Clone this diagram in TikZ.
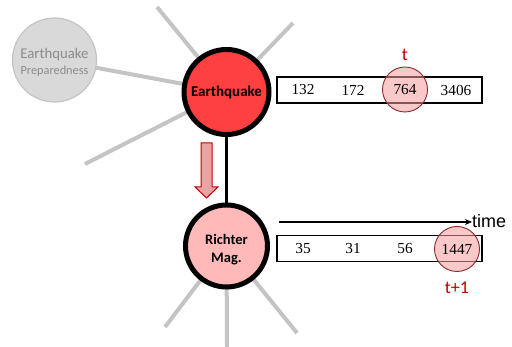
\documentclass[tikz,border=0pt]{standalone}
\usepackage{fontspec}
\usetikzlibrary{arrows.meta}
\setmainfont{Liberation Serif}
\newfontfamily\carlito{Carlito}
\newfontfamily\arialf{Liberation Sans}
\definecolor{eqred}{HTML}{FF4040}
\definecolor{rmpink}{HTML}{FFB9B9}
\definecolor{graylink}{HTML}{C4C4C4}
\definecolor{grayfill}{HTML}{D9D9D9}
\definecolor{graytext}{HTML}{8C8C8C}
\definecolor{hlfill}{HTML}{F49A9A}
\definecolor{hldraw}{HTML}{8A2A2A}
\definecolor{tred}{HTML}{C00000}
\definecolor{arrowfill}{HTML}{E8A4A4}
\definecolor{arrowdraw}{HTML}{C00000}
\tikzset{
  graylink/.style={draw=graylink, line width=4pt},
  bigcircle/.style={circle, draw=black, line width=5pt, inner sep=0pt},
  numtext/.style={font=\fontsize{15.3}{18}\selectfont, inner sep=0pt},
  arraybox/.style={draw=black, line width=1.5pt, minimum width=205pt, minimum height=26pt, inner sep=0pt},
  hl/.style={circle, draw=hldraw, line width=0.9pt, fill=hlfill, fill opacity=0.55, minimum size=45pt, inner sep=0pt},
  redlabel/.style={text=tred, font=\carlito\fontsize{18}{20}\selectfont, inner sep=0pt}
}
\begin{document}
\begin{tikzpicture}[x=1pt,y=-1pt]
\useasboundingbox (0,0) rectangle (512,347);
% coordinates of free ends
\coordinate (e1) at (157,7);
\coordinate (e2) at (293,23);
\coordinate (e3) at (85,164);
\coordinate (r1) at (165,327);
\coordinate (r2) at (227,347);
\coordinate (r3) at (297,333);
% gray links
\draw[graylink] (226.5,92) -- (e1);
\draw[graylink] (226.5,92) -- (e2);
\draw[graylink] (226.5,92) -- (e3);
\draw[graylink] (226.5,92) -- (54.5,60);
\draw[graylink] (226.5,246) -- (r1);
\draw[graylink] (226.5,246) -- (r2);
\draw[graylink] (226.5,246) -- (r3);
% black connector
\draw[black, line width=3pt] (226.5,92) -- (226.5,246);
% gray preparedness node
\node[circle, draw=graylink, line width=1.2pt, fill=grayfill, minimum size=84pt, inner sep=0pt] (prep) at (54.5,60) {};
\node[text=graytext, inner sep=0pt, font=\carlito\fontsize{14.8}{16}\selectfont] (prep1) at (54.5,54.5) {Earthquake};
\node[text=graytext, inner sep=0pt, font=\carlito\fontsize{12.3}{14}\selectfont] (prep2) at (54.5,71) {Preparedness};
% main nodes
\node[bigcircle, fill=eqred, minimum size=85pt, font=\carlito\bfseries\fontsize{15}{18}\selectfont] (eq) at (226.5,92)
  {Earthquake};
\node[bigcircle, fill=rmpink, minimum size=82pt] (rm) at (226.5,246) {};
\node[inner sep=0pt, align=center, font=\carlito\bfseries\fontsize{14.5}{18}\selectfont] (rmtext) at (226.5,250) {Richter\\Mag.};
% red down arrow
\draw[draw=arrowdraw, fill=arrowfill, line width=1pt]
  (201,143) -- (212,143) -- (212,187) -- (218,187) -- (206.5,198) -- (195,187) -- (201,187) -- cycle;
% arrays
\node[arraybox] (arr1) at (379.5,90) {};
\node[arraybox] (arr2) at (379.5,248.5) {};
% highlights
\node[hl] (h1) at (405,89.5) {};
\node[hl] (h2) at (457,249) {};
\node[numtext] (a1) at (303,90) {132};
\node[numtext] (a2) at (353,90) {172};
\node[numtext] (a3) at (405,90) {764};
\node[numtext] (a4) at (456,90) {3406};
\node[numtext] (b1) at (303,249) {35};
\node[numtext] (b2) at (353,249) {31};
\node[numtext] (b3) at (405,249) {56};
\node[numtext] (b4) at (457,249) {1447};
\node[redlabel] (t) at (405,55) {t};
\node[redlabel] (t1) at (457,288) {t+1};
% time arrow
\node[anchor=west, inner sep=0pt, font=\arialf\fontsize{18}{20}\selectfont] (time) at (472,221) {time};
\coordinate (ts) at (279,222);
\draw[-{Stealth[length=7pt,width=6pt]}, line width=1.2pt] (ts) -- (time.west |- ts);
\end{tikzpicture}
\end{document}
